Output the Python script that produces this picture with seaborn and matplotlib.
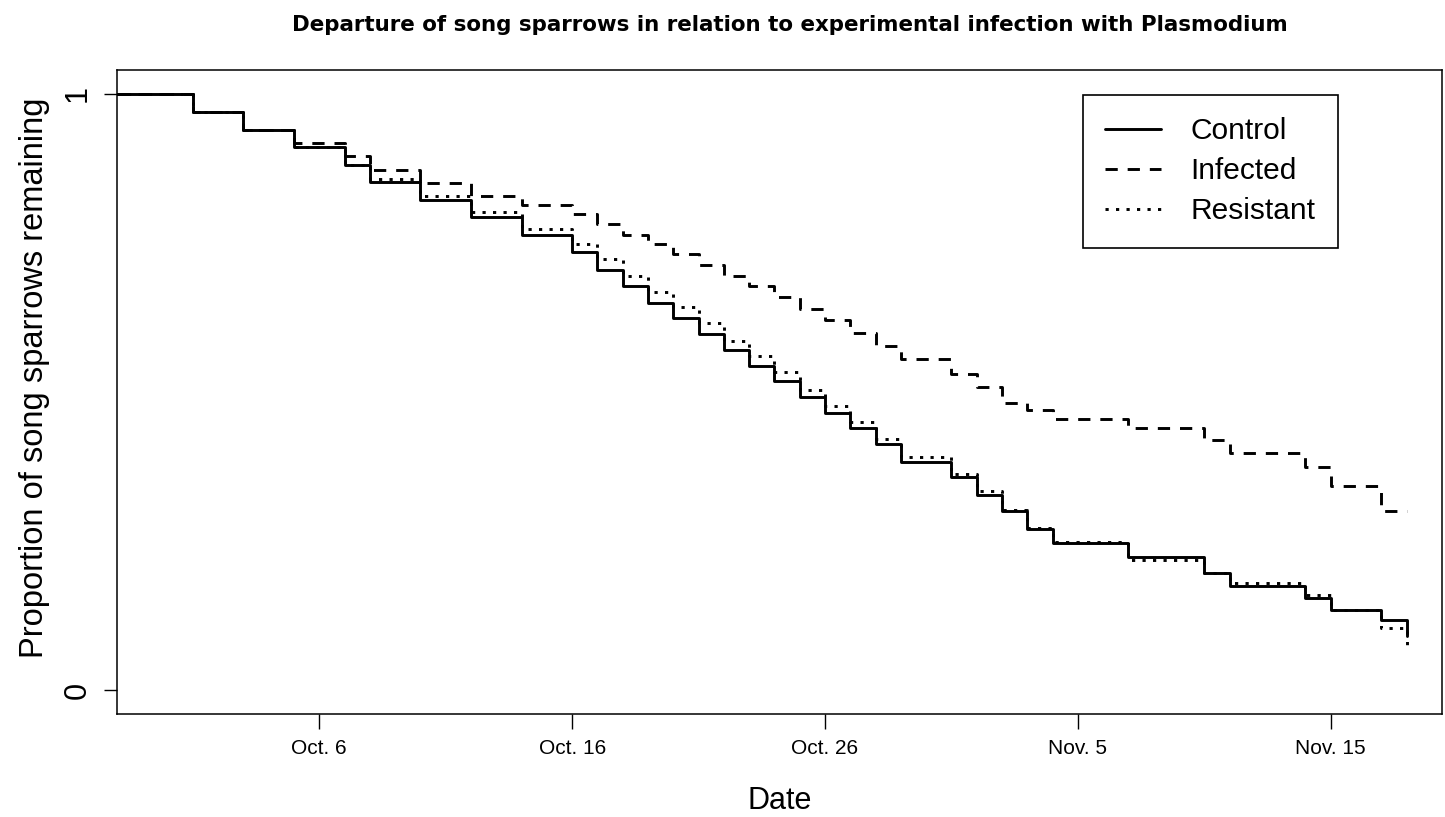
import pandas as pd
import seaborn as sns
import matplotlib.pyplot as plt

# days relative to Oct. 6 (day 0)
days = [-8, -5, -3, -1, 1, 2, 4, 6, 8, 10,
        11, 12, 13, 14, 15, 16, 17, 18, 19, 20, 21, 22, 23,
        25, 26, 27, 28, 29,
        32, 35, 36, 39, 40, 42, 43]

control = [1.0, 0.970, 0.940, 0.911, 0.881, 0.852, 0.822, 0.793, 0.763, 0.735,
           0.705, 0.677, 0.649, 0.624, 0.597, 0.570, 0.544, 0.519, 0.492, 0.465, 0.439, 0.413, 0.383,
           0.357, 0.328, 0.301, 0.271, 0.247,
           0.224, 0.197, 0.174, 0.154, 0.135, 0.117, 0.090]

infected = [1.0, 0.970, 0.940, 0.917, 0.895, 0.873, 0.850, 0.829, 0.814, 0.798,
            0.782, 0.763, 0.748, 0.731, 0.713, 0.695, 0.678, 0.659, 0.640, 0.621, 0.599, 0.577, 0.556,
            0.531, 0.509, 0.482, 0.470, 0.454,
            0.439, 0.419, 0.398, 0.374, 0.342, 0.301, 0.301]

resistant = [1.0, 0.970, 0.940, 0.911, 0.881, 0.857, 0.828, 0.802, 0.774, 0.748,
             0.723, 0.695, 0.668, 0.643, 0.615, 0.585, 0.560, 0.534, 0.504, 0.476, 0.450, 0.421, 0.391,
             0.362, 0.334, 0.302, 0.272, 0.249,
             0.218, 0.197, 0.179, 0.159, 0.135, 0.105, 0.072]

groups = ['Control', 'Infected', 'Resistant']
tick_days = [0, 10, 20, 30, 40]
tick_labels = ['Oct. 6', 'Oct. 16', 'Oct. 26', 'Nov. 5', 'Nov. 15']


def main():
    sns.set_theme(style='white')
    plt.rcParams['font.family'] = ['Liberation Sans', 'DejaVu Sans']
    plt.rcParams['text.color'] = 'black'
    plt.rcParams['axes.labelcolor'] = 'black'
    plt.rcParams['xtick.color'] = 'black'
    plt.rcParams['ytick.color'] = 'black'

    # long table for seaborn
    frames = []
    for name, vals in zip(groups, [control, infected, resistant]):
        frames.append(pd.DataFrame({'day': days, 'prop': vals, 'group': name}))
    df = pd.concat(frames, ignore_index=True)

    W, H = 1445, 817
    fig = plt.figure(figsize=(W / 100, H / 100), dpi=100)
    ax = fig.add_axes([117 / W, 1 - 714 / H, (1442 - 117) / W, 644 / H])

    sns.lineplot(
        data=df, x='day', y='prop', style='group', style_order=groups,
        dashes={'Control': '', 'Infected': (4.2, 3.4), 'Resistant': (1.1, 2.5)},
        color='black', linewidth=2.1, drawstyle='steps-post',
        estimator=None, legend=False, ax=ax
    )

    ax.set_xlim(-8, 44.4)
    ax.set_ylim(-0.04, 1.04)

    ax.set_xticks(tick_days)
    ax.set_xticklabels(tick_labels, family=['Liberation Sans Narrow', 'Liberation Sans'], fontsize=15)
    ax.set_yticks([0, 1])
    ax.set_yticklabels(['0', '1'], rotation=90, va='center', fontsize=22)
    ax.tick_params(axis='x', length=10.8, width=1, color='black', pad=7, bottom=True)
    ax.tick_params(axis='y', length=9.4, width=1, color='black', pad=8, left=True)

    for sp in ax.spines.values():
        sp.set_color('black')
        sp.set_linewidth(1.1)

    ax.set_xlabel('Date', fontsize=22)
    ax.set_ylabel('Proportion of song sparrows remaining', fontsize=23.5)
    ax.xaxis.set_label_coords(0.5, (714 - 786) / 644)
    ax.yaxis.set_label_coords((50 - 117) / 1325, (714 - 378) / 644)

    fig.text((117 + 1442) / 2 / W + 0.007, 1 - 31 / H,
             'Departure of song sparrows in relation to experimental infection with Plasmodium',
             ha='center', va='baseline', fontsize=15.4, fontweight='bold',
             family=['DejaVu Sans'])

    leg = ax.legend(ax.get_lines()[:3], groups, loc='upper right',
                    bbox_to_anchor=(1338 / W, 1 - 95 / H), bbox_transform=fig.transFigure,
                    fontsize=21.5, frameon=True, fancybox=False, framealpha=1,
                    edgecolor='black', handlelength=1.87, handletextpad=1.0,
                    borderpad=0.75, labelspacing=0.4, borderaxespad=0)
    leg.get_frame().set_linewidth(1.2)

    fig.savefig('out.png', dpi=100, facecolor='white')


if __name__ == "__main__":
    main()
